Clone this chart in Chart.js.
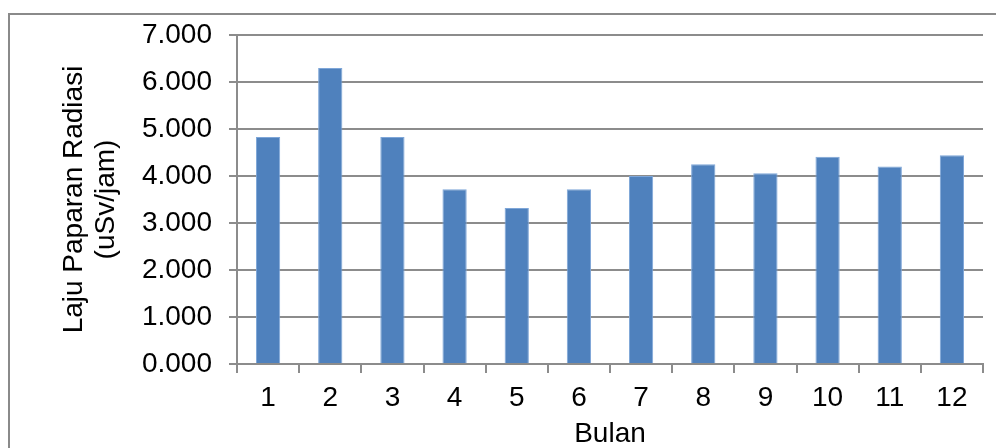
<!DOCTYPE html>
<html>

<head>
    <meta charset="utf-8">
    <script src="https://cdn.jsdelivr.net/npm/chart.js@4.4.7/dist/chart.umd.min.js"></script>
    <style>
        body { margin: 0; background: #fff; }
    </style>
</head>

<body>
    <div style="width: 996px; height: 448px;">
        <canvas id="wykres" width="996" height="448"></canvas>
    </div>
    <script>
        const bulan = ["1", "2", "3", "4", "5", "6", "7", "8", "9", "10", "11", "12"]
        const laju = [4.83, 6.30, 4.83, 3.72, 3.32, 3.72, 4.00, 4.25, 4.06, 4.41, 4.20, 4.44]
        const judulY = ["Laju Paparan Radiasi", "(uSv/jam)"]
        const judulX = "Bulan"

        const garis = "#8c8c8c"

        // ramka wykresu (tylko lewa i gorna krawedz widoczna)
        const ramka = {
            id: "ramka",
            beforeDraw(chart) {
                const c = chart.ctx
                c.save()
                c.strokeStyle = "#8a8a8a"
                c.lineWidth = 2
                c.beginPath()
                c.moveTo(9, 460)
                c.lineTo(9, 14)
                c.lineTo(1000, 14)
                c.stroke()
                c.restore()
            }
        }

        const dane = {
            labels: bulan,
            datasets: [{
                label: "laju",
                data: laju,
                backgroundColor: "#4f81bd",
                borderColor: "#7ea6d8",
                borderWidth: 1,
                barPercentage: 0.39,
                categoryPercentage: 1
            }]
        }

        const ctx = document.getElementById("wykres").getContext("2d");
        const wykres = new Chart(ctx, {
            type: "bar",
            data: dane,
            plugins: [ramka],
            options: {
                responsive: false,
                animation: false,
                layout: { padding: { left: 0, right: 13, top: 35, bottom: 0 } },
                plugins: { legend: { display: false }, tooltip: { enabled: false } },
                scales: {
                    x: {
                        afterFit(s) { s.height = 84 },
                        grid: { display: true, drawOnChartArea: false, color: garis, lineWidth: 2, tickLength: 9, offset: true },
                        border: { color: garis, width: 2 },
                        ticks: { color: "#000", font: { family: "Liberation Sans", size: 28 }, padding: 8 },
                        title: {
                            display: true, text: judulX, color: "#000",
                            font: { family: "Liberation Sans", size: 28, lineHeight: 1 },
                            padding: { top: 0, bottom: 0 }
                        }
                    },
                    y: {
                        min: 0,
                        max: 7,
                        afterFit(s) { s.width = 237 },
                        grid: { color: garis, lineWidth: 2, tickLength: 8 },
                        border: { color: garis, width: 2 },
                        ticks: {
                            stepSize: 1,
                            color: "#000",
                            font: { family: "Liberation Sans", size: 28 },
                            padding: 17,
                            callback: (v) => v.toFixed(3)
                        },
                        title: {
                            display: true, text: judulY, color: "#000",
                            font: { family: "Liberation Sans", size: 28, lineHeight: 1.12 },
                            padding: { top: 59, bottom: 0 }
                        }
                    }
                }
            }
        });
    </script>
</body>

</html>
